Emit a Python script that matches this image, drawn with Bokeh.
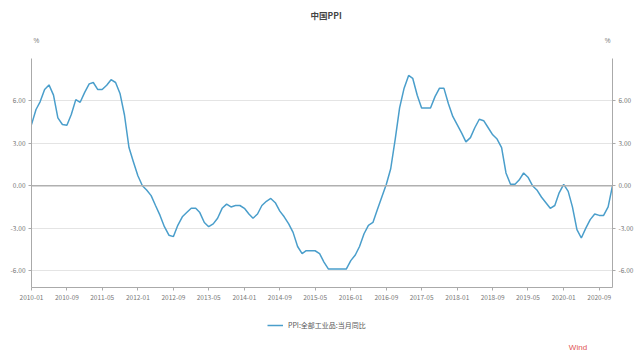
import pandas as pd
from bokeh.plotting import figure
from bokeh.layouts import column
from bokeh.models import (LinearAxis, Range1d, FixedTicker, NumeralTickFormatter,
                          DatetimeTickFormatter, Label, Legend, LegendItem, Span)
from bokeh.embed import file_html
from bokeh.resources import INLINE

title_text = "中国PPI"
series_name = "PPI:全部工业品:当月同比"
unit = "%"
source = "Wind"
start_month = "2010-01"

ppi_yoy = [
    4.32, 5.39, 5.93, 6.81, 7.13, 6.41, 4.80, 4.33, 4.27, 5.04, 6.09, 5.90,
    6.6, 7.2, 7.3, 6.8, 6.8, 7.1, 7.5, 7.3, 6.5, 5.0, 2.7, 1.7,
    0.7, 0.0, -0.3, -0.7, -1.4, -2.1, -2.9, -3.5, -3.6, -2.8, -2.2, -1.9,
    -1.6, -1.6, -1.9, -2.6, -2.9, -2.7, -2.3, -1.6, -1.3, -1.5, -1.4, -1.4,
    -1.6, -2.0, -2.3, -2.0, -1.4, -1.1, -0.9, -1.2, -1.8, -2.2, -2.7, -3.3,
    -4.3, -4.8, -4.6, -4.6, -4.6, -4.8, -5.4, -5.9, -5.9, -5.9, -5.9, -5.9,
    -5.3, -4.9, -4.3, -3.4, -2.8, -2.6, -1.7, -0.8, 0.1, 1.2, 3.3, 5.5,
    6.9, 7.8, 7.6, 6.4, 5.5, 5.5, 5.5, 6.3, 6.9, 6.9, 5.8, 4.9,
    4.3, 3.7, 3.1, 3.4, 4.1, 4.7, 4.6, 4.1, 3.6, 3.3, 2.7, 0.9,
    0.1, 0.1, 0.4, 0.9, 0.6, 0.0, -0.3, -0.8, -1.2, -1.6, -1.4, -0.5,
    0.1, -0.4, -1.5, -3.1, -3.7, -3.0, -2.4, -2.0, -2.1, -2.1, -1.5, 0.0,
]
y_ticks = [-6, -3, 0, 3, 6]
y_axis_min, y_axis_max = -7.2, 9.0
x_tick_labels = ["2010-01", "2010-09", "2011-05", "2012-01", "2012-09", "2013-05",
                 "2014-01", "2014-09", "2015-05", "2016-01", "2016-09", "2017-05",
                 "2018-01", "2018-09", "2019-05", "2020-01", "2020-09"]

dates = pd.date_range(start_month, periods=len(ppi_yoy), freq="MS")
x_ticks = [pd.Timestamp(s + "-01").value / 1e6 for s in x_tick_labels]

line_color = "#4a9ecb"
gray_txt = "#777777"
axis_col = "#aaaaaa"

# ---------- main chart: frame reaches the top so title / unit texts sit inside it
top_extra = 13.1
p = figure(width=640, height=305, frame_width=581, frame_height=287,
           output_backend="svg", toolbar_location=None,
           x_axis_type="datetime",
           x_range=Range1d(dates[0], dates[-1]), y_range=Range1d(y_axis_min, top_extra),
           min_border_left=31, min_border_right=28, min_border_top=0, min_border_bottom=0)
p.outline_line_color = None
p.background_fill_color = "white"
p.border_fill_color = "white"

for ax in p.yaxis:
    ax.ticker = FixedTicker(ticks=y_ticks)
    ax.formatter = NumeralTickFormatter(format="0.00")
right = LinearAxis(ticker=FixedTicker(ticks=y_ticks), formatter=NumeralTickFormatter(format="0.00"))
p.add_layout(right, "right")
for ax in [p.yaxis[0], right]:
    ax.bounds = (y_axis_min, y_axis_max)
    ax.axis_line_color = axis_col
    ax.major_tick_line_color = axis_col
    ax.minor_tick_line_color = None
    ax.major_tick_in = 0
    ax.major_tick_out = 3
    ax.major_label_text_font_size = "6.5px"
    ax.major_label_text_color = gray_txt
    ax.major_label_text_font = "Noto Sans CJK SC"
    ax.major_label_standoff = 3

xa = p.xaxis[0]
xa.ticker = FixedTicker(ticks=x_ticks)
xa.formatter = DatetimeTickFormatter(days="%Y-%m", months="%Y-%m", years="%Y-%m")
xa.axis_line_color = axis_col
xa.major_tick_line_color = axis_col
xa.minor_tick_line_color = None
xa.major_tick_in = 0
xa.major_tick_out = 3
xa.major_label_text_font_size = "6.5px"
xa.major_label_text_color = gray_txt
xa.major_label_text_font = "Noto Sans CJK SC"
xa.major_label_standoff = 4

p.xgrid.grid_line_color = None
p.ygrid.ticker = FixedTicker(ticks=[-6, -3, 3, 6])
p.ygrid.grid_line_color = "#e4e4e4"
p.ygrid.grid_line_width = 1

p.add_layout(Span(location=0, dimension="width", line_color="#b0b0b0", line_width=1.5))

p.line(dates, ppi_yoy, line_color=line_color, line_width=1.5)

mid_date = dates[len(dates) // 2] + pd.Timedelta(days=15)
p.add_layout(Label(x=mid_date, y=12.05, text=title_text, text_font="Noto Sans CJK SC",
                   text_font_size="8.5px", text_font_style="bold", text_color="#444444",
                   text_align="center", text_baseline="middle"))
p.add_layout(Label(x=2, y=10.3, x_units="screen", text=unit,
                   text_font_size="6.5px", text_color=gray_txt,
                   text_align="left", text_baseline="middle"))
p.add_layout(Label(x=dates[-1], y=10.3, x_offset=-2, text=unit,
                   text_font_size="6.5px", text_color=gray_txt,
                   text_align="right", text_baseline="middle"))

# ---------- footer strip: legend and source note
p2 = figure(width=640, height=53, output_backend="svg", toolbar_location=None,
            x_range=Range1d(0, 640), y_range=Range1d(0, 53),
            x_axis_location=None, y_axis_location=None,
            min_border_left=0, min_border_right=0, min_border_top=0, min_border_bottom=0)
p2.outline_line_color = None
p2.grid.visible = False
p2.background_fill_color = "white"
p2.border_fill_color = "white"

# same series in the footer strip (outside its visible range); it only supplies the legend swatch
r2 = p2.line(dates, ppi_yoy, line_color=line_color, line_width=1.5)

legend = Legend(items=[LegendItem(label=series_name, renderers=[r2])],
                location=(236, 25), orientation="horizontal",
                label_text_font_size="7px", label_text_color="#555555",
                label_text_font="Noto Sans CJK SC",
                glyph_width=16, glyph_height=8, padding=2, margin=0,
                border_line_color=None, background_fill_alpha=0)
p2.add_layout(legend, "center")

p2.add_layout(Label(x=612, y=8, text=source,
                    text_font="Liberation Sans", text_font_size="8px",
                    text_color="#e05555", text_align="right", text_baseline="middle"))

layout = column(p, p2, spacing=0)
open("out.html", "w").write(file_html(layout, INLINE))
